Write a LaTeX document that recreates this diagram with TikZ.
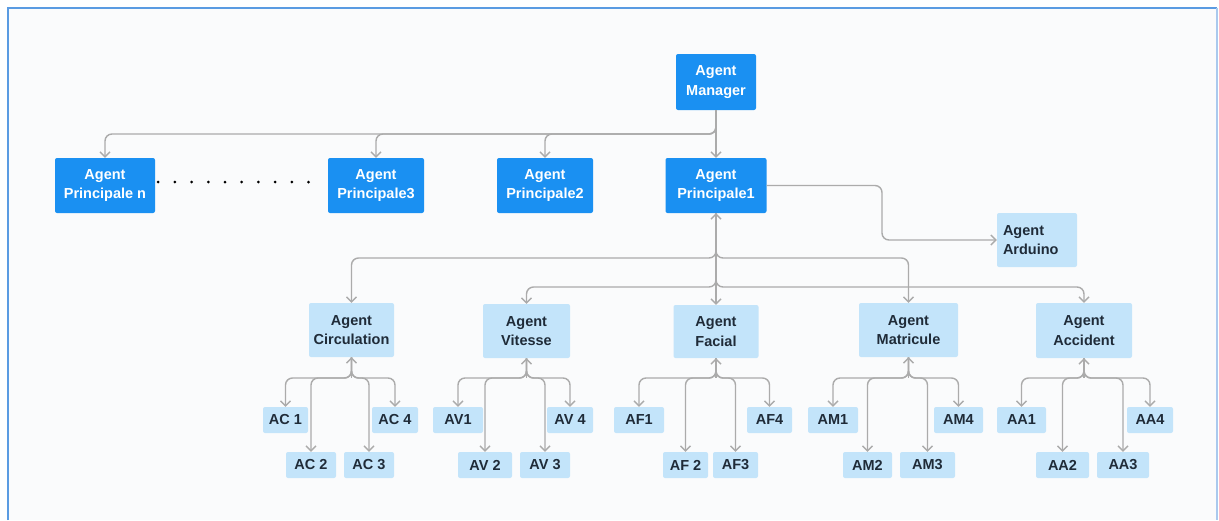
\documentclass[tikz,border=0pt]{standalone}
\usepackage{fontspec}
\setmainfont{Liberation Sans}
\usetikzlibrary{arrows.meta}
\definecolor{bluedark}{HTML}{1A90F2}
\definecolor{bluelight}{HTML}{C3E4FA}
\definecolor{txtdark}{HTML}{1F2B38}
\definecolor{wire}{HTML}{ABABAB}
\definecolor{frameblue}{HTML}{5A9BE2}
\definecolor{frameside}{HTML}{A9C9EE}
\definecolor{canvas}{HTML}{FAFBFC}
\begin{document}
\begin{tikzpicture}[x=1pt,y=-1pt,
  box/.style={rounded corners=2pt, inner sep=0pt, align=center,
    font=\fontsize{14.5}{19.5}\selectfont\bfseries},
  mainbox/.style={box, fill=bluedark, text=white},
  subbox/.style={box, fill=bluelight, text=txtdark},
  leaf/.style={subbox, minimum height=26pt},
  wireline/.style={draw=wire, line width=1.4pt, rounded corners=7pt},
  tip/.tip={Straight Barb[length=5pt,width=10pt]},
  conn/.style={wireline, -tip},
  upconn/.style={wireline, tip-},
  dotline/.style={draw=black, line width=3pt, line cap=round,
    dash pattern=on 0pt off 16.7pt, shorten <=3pt, shorten >=3pt}
]
\useasboundingbox (0,0) rectangle (1219,520);
% page and frame
\fill[white] (0,0) rectangle (1219,520);
\fill[canvas] (8,8) rectangle (1217,520);
\draw[frameblue, line width=2pt] (8,520) -- (8,8) -- (1217,8);
\draw[frameside, line width=2pt] (1217,8) -- (1217,520);

% top levels
\node[mainbox, minimum width=80pt, minimum height=56pt] (mgr) at (716,82) {Agent\\Manager};
\node[mainbox, minimum width=100pt, minimum height=55pt] (pn) at (105,185.5) {Agent\\Principale n};
\node[mainbox, minimum width=96pt, minimum height=55pt] (p3) at (376,185.5) {Agent\\Principale3};
\node[mainbox, minimum width=96pt, minimum height=55pt] (p2) at (545,185.5) {Agent\\Principale2};
\node[mainbox, minimum width=101pt, minimum height=55pt] (p1) at (716,185.5) {Agent\\Principale1};
\node[subbox, minimum height=54pt, text width=68pt, inner xsep=6pt, align=left] (ard) at (1037,240) {Agent\\Arduino};

% specialised agents
\node[subbox, minimum width=85pt, minimum height=54pt] (circ) at (351.5,330) {Agent\\Circulation};
\node[subbox, minimum width=87pt, minimum height=54pt] (vit) at (526.5,331) {Agent\\Vitesse};
\node[subbox, minimum width=85pt, minimum height=53pt] (fac) at (716,331.5) {Agent\\Facial};
\node[subbox, minimum width=99pt, minimum height=54pt] (mat) at (908.5,330) {Agent\\Matricule};
\node[subbox, minimum width=96pt, minimum height=55pt] (acc) at (1084,330.5) {Agent\\Accident};

% leaves
\node[leaf, minimum width=45pt] (ac1) at (285.5,420) {AC 1};
\node[leaf, minimum width=50pt] (ac2) at (311,465) {AC 2};
\node[leaf, minimum width=50pt] (ac3) at (369,465) {AC 3};
\node[leaf, minimum width=46pt] (ac4) at (395,420) {AC 4};

\node[leaf, minimum width=50pt] (av1) at (458,420) {AV1};
\node[leaf, minimum width=54pt] (av2) at (485,465) {AV 2};
\node[leaf, minimum width=50pt] (av3) at (545,465) {AV 3};
\node[leaf, minimum width=46pt] (av4) at (570,420) {AV 4};

\node[leaf, minimum width=50pt] (af1) at (639,420) {AF1};
\node[leaf, minimum width=45pt] (af2) at (685.5,465) {AF 2};
\node[leaf, minimum width=45pt] (af3) at (735.5,465) {AF3};
\node[leaf, minimum width=45pt] (af4) at (769.5,420) {AF4};

\node[leaf, minimum width=50pt] (am1) at (833,420) {AM1};
\node[leaf, minimum width=49pt] (am2) at (867.5,465) {AM2};
\node[leaf, minimum width=55pt] (am3) at (927.5,465) {AM3};
\node[leaf, minimum width=49pt] (am4) at (958.5,420) {AM4};

\node[leaf, minimum width=49pt] (aa1) at (1021.5,420) {AA1};
\node[leaf, minimum width=53pt] (aa2) at (1062.5,465) {AA2};
\node[leaf, minimum width=52pt] (aa3) at (1123,465) {AA3};
\node[leaf, minimum width=46pt] (aa4) at (1150,420) {AA4};

% bends and junctions
\coordinate (mbus) at (716,134);
\coordinate (abend) at (882,185.5);
\coordinate (bus1) at (716,258);
\coordinate (bus2) at (716,287);
\coordinate (jc) at (351.5,378);
\coordinate (jv) at (526.5,378);
\coordinate (jf) at (716,378);
\coordinate (jm) at (908.5,378);
\coordinate (ja) at (1084,378);

% manager to principal agents
\draw[conn] (mgr.south) -- (p1.north);
\draw[conn] (mgr.south) -- (mbus) -| (p2.north);
\draw[conn] (mgr.south) -- (mbus) -| (p3.north);
\draw[conn] (mgr.south) -- (mbus) -| (pn.north);
\draw[dotline] ([yshift=3.5pt]pn.east) -- ([yshift=3.5pt]p3.west);

% principal agent 1 to its agents
\draw[conn] (p1.east) -- (abend) |- (ard.west);
\draw[conn, tip-tip] (p1.south) -- (fac.north);
\draw[conn] (p1.south) -- (bus1) -| (circ.north);
\draw[conn] (p1.south) -- (bus1) -| (mat.north);
\draw[conn] (p1.south) -- (bus2) -| (vit.north);
\draw[conn] (p1.south) -- (bus2) -| (acc.north);

% agents to their leaves
\foreach \g/\j/\a/\b/\c/\d in {circ/jc/ac1/ac2/ac3/ac4, vit/jv/av1/av2/av3/av4,
    fac/jf/af1/af2/af3/af4, mat/jm/am1/am2/am3/am4, acc/ja/aa1/aa2/aa3/aa4}{
  \draw[upconn] (\g.south) -- (\j);
  \draw[conn] (\g.south) -- (\j) -| (\a.north);
  \draw[conn] (\g.south) -- (\j) -| (\b.north);
  \draw[conn] (\g.south) -- (\j) -| (\c.north);
  \draw[conn] (\g.south) -- (\j) -| (\d.north);
}
\end{tikzpicture}
\end{document}
